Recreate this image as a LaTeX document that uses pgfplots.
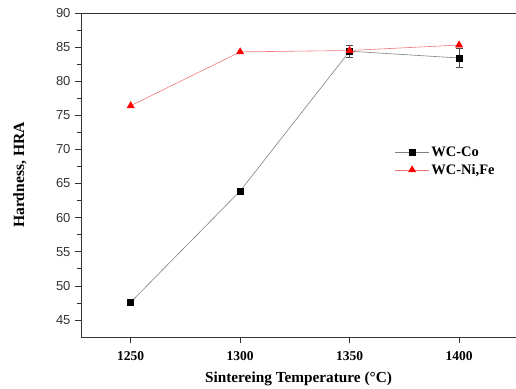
\documentclass[border=0pt]{standalone}
\usepackage{fontspec}
\setmainfont{Liberation Serif}
\newfontfamily\arialfont{Liberation Sans}
\usepackage{pgfplots}
\pgfplotsset{compat=1.18}
\definecolor{lred}{RGB}{240,120,120}
\begin{document}
\begin{tikzpicture}
\begin{axis}[
  name=ax,
  scale only axis,
  width=435pt, height=324pt,
  xmin=1227.3, xmax=1426, ymin=42.5, ymax=90,
  axis x line*=bottom, axis y line*=left,
  axis line style={-, line width=0.8pt, black!80},
  xtick={1250,1300,1350,1400},
  ytick={45,50,...,90},
  minor y tick num=1,
  tick align=outside,
  major tick length=6pt, minor tick length=3.5pt,
  tick style={black!80, line width=0.6pt},
  yticklabel style={font=\arialfont\fontsize{13}{15}\selectfont, text=black!80, xshift=-1pt},
  xticklabel style={font=\bfseries\fontsize{13.5}{15}\selectfont, yshift=-5pt},
  /pgf/number format/assume math mode=true,
  /pgf/number format/1000 sep={},
  xlabel={Sintereing Temperature (°C)},
  ylabel={Hardness, HRA},
  every axis x label/.style={at={(rel axis cs:0.5,0)}, yshift=-42pt, anchor=center,
    font=\bfseries\fontsize{15.3}{17}\selectfont},
  every axis y label/.style={at={(rel axis cs:0,0.5)}, xshift=-61pt, anchor=center, rotate=90,
    font=\bfseries\fontsize{15.6}{17}\selectfont},
  legend style={draw=none, fill=none, at={(0.721,0.593)}, anchor=north west,
    font=\bfseries\fontsize{14.5}{16}\selectfont, row sep=2pt, inner sep=0pt},
  legend image code/.code={
    \draw[#1, mark=none] (0pt,0pt) -- (34pt,0pt);
    \draw[#1, only marks] plot coordinates {(17pt,0pt)};
  },
  legend cell align=left,
  clip=false,
]
\addplot[gray, line width=0.6pt, mark=square*, mark size=3pt,
  mark options={fill=black, draw=black},
  error bars/.cd, y dir=both, y explicit, error bar style={black!70, line width=0.5pt},
  error mark options={rotate=90, mark size=3.5pt, black!70}]
  coordinates {(1250,47.6) +- (0,0) (1300,63.9) +- (0,0) (1350,84.4) +- (0,0.95) (1400,83.4) +- (0,1.4)};
\addlegendentry{WC-Co}
\addplot[lred, line width=0.6pt, mark=triangle*, mark size=4pt,
  mark options={fill=red, draw=red}]
  coordinates {(1250,76.4) (1300,84.3) (1350,84.5) (1400,85.3)};
\addlegendentry{WC-Ni,Fe}
\draw[line width=0.8pt, black!80] (rel axis cs:0,1) -- (rel axis cs:1,1);
\end{axis}
\pgfresetboundingbox
\path (ax.south west) ++(-81pt,-52pt) rectangle ([shift={(0pt,13pt)}]ax.north east);
\end{tikzpicture}
\end{document}
